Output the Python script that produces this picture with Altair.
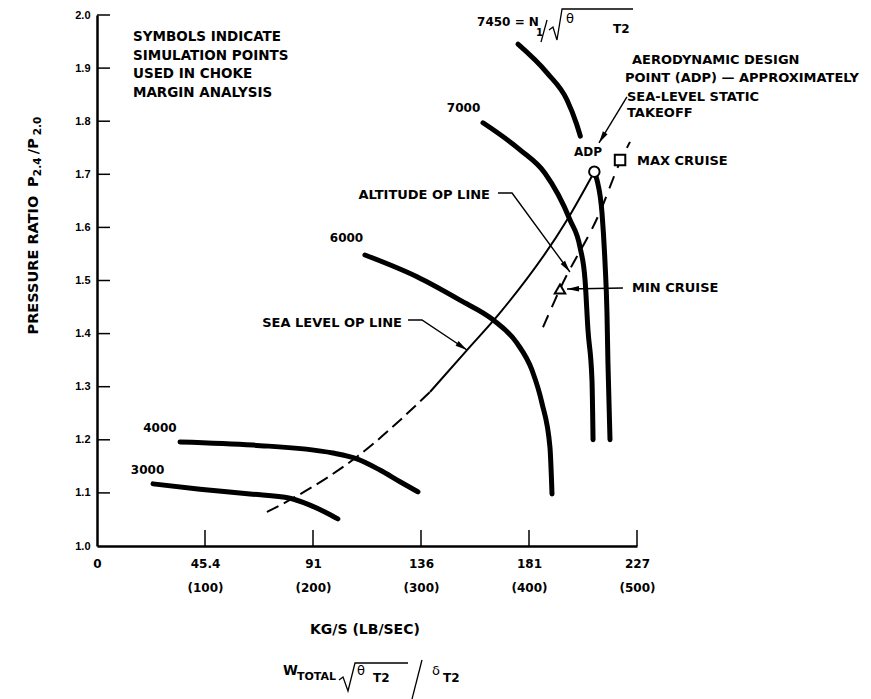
import math
import altair as alt
import pandas as pd

FONT = "DejaVu Sans"
TICK_FONT = "Liberation Sans"

# Corrected fan speed lines N1/sqrt(theta_T2): corrected flow (lb/s) vs pressure ratio P2.4/P2.0
speed_names = ["3000", "4000", "6000", "7000", "7450"]
flow_3000 = [51.9, 95.4, 141.7, 178.7, 197.2, 211.0, 223.0]
pr_3000 = [1.117, 1.107, 1.098, 1.090, 1.077, 1.064, 1.051]
flow_4000 = [76.9, 144.4, 218.5, 240.7, 262.0, 280.6, 297.2]
pr_4000 = [1.196, 1.190, 1.175, 1.164, 1.143, 1.121, 1.102]
flow_6000 = [248.1, 296.3, 336.1, 366.7, 388.9, 402.8, 412.0, 419.4, 421.3]
pr_6000 = [1.548, 1.507, 1.463, 1.426, 1.382, 1.331, 1.269, 1.186, 1.098]
flow_7000 = [357.4, 391.7, 414.8, 438.0, 447.2, 451.9, 454.6, 458.3, 459.3]
pr_7000 = [1.797, 1.746, 1.702, 1.614, 1.563, 1.501, 1.407, 1.313, 1.200]
# the 7450 line is broken where the ADP label sits
flow_7450_upper = [389.8, 416.7, 435.2, 444.0, 447.5]
pr_7450_upper = [1.945, 1.891, 1.840, 1.795, 1.772]
flow_7450_lower = [460.5, 463.0, 467.6, 470.4, 472.2, 473.1, 475.0]
pr_7450_lower = [1.705, 1.689, 1.627, 1.533, 1.439, 1.345, 1.200]

# Sea-level operating line (dashed at low flow, solid up to the design point)
sea_dash_flow = [157.4, 181.5, 240.7, 308.3]
sea_dash_pr = [1.064, 1.090, 1.168, 1.290]
sea_solid_flow = [308.3, 342.6, 373.1, 435.2, 460.5]
sea_solid_pr = [1.290, 1.369, 1.439, 1.614, 1.705]

# Altitude operating line
alt_flow = [413.0, 428.7, 465.7, 484.3, 493.5]
alt_pr = [1.412, 1.484, 1.629, 1.723, 1.761]

# Simulation points used in the choke margin analysis
point_names = ["ADP", "MAX CRUISE", "MIN CRUISE"]
point_shapes = ["circle", "square", "triangle-up"]
point_flow = [460.5, 484.3, 428.7]
point_pr = [1.705, 1.727, 1.484]

# Axis ticks
flow_ticks_lb = [0, 100, 200, 300, 400, 500]
flow_ticks_kg = ["0", "45.4", "91", "136", "181", "227"]
pr_ticks = [1.0, 1.1, 1.2, 1.3, 1.4, 1.5, 1.6, 1.7, 1.8, 1.9, 2.0]

W, H = 540, 531
PX_X = W / 500.0   # pixels per lb/s
PX_Y = H / 1.0     # pixels per unit pressure ratio

# ---------- tables ----------
speed_rows = []
pieces = [
    ("3000", flow_3000, pr_3000), ("4000", flow_4000, pr_4000),
    ("6000", flow_6000, pr_6000), ("7000", flow_7000, pr_7000),
    ("7450a", flow_7450_upper, pr_7450_upper), ("7450b", flow_7450_lower, pr_7450_lower),
]
for name, fl, pr in pieces:
    for i, (a, b) in enumerate(zip(fl, pr)):
        speed_rows.append({"series": name, "ord": i, "x": a, "y": b})
speed_df = pd.DataFrame(speed_rows)

sea_dash_df = pd.DataFrame({"x": sea_dash_flow, "y": sea_dash_pr, "ord": range(len(sea_dash_flow))})
sea_solid_df = pd.DataFrame({"x": sea_solid_flow, "y": sea_solid_pr, "ord": range(len(sea_solid_flow))})
alt_df = pd.DataFrame({"x": alt_flow, "y": alt_pr, "ord": range(len(alt_flow))})
points_df = pd.DataFrame({"name": point_names, "x": point_flow, "y": point_pr})

# annotation text: (text, x, y, font size, align, weight, angle)
texts = [
    ("SYMBOLS INDICATE", 33.3, 1.9586, 13.5, "left", "bold", 0),
    ("SIMULATION POINTS", 33.3, 1.9237, 13.5, "left", "bold", 0),
    ("USED IN CHOKE", 33.3, 1.8889, 13.5, "left", "bold", 0),
    ("MARGIN ANALYSIS", 33.3, 1.8540, 13.5, "left", "bold", 0),
    ("7000", 339.4, 1.825, 12, "center", "bold", 0),
    ("6000", 231.0, 1.580, 12, "center", "bold", 0),
    ("4000", 58.3, 1.222, 12, "center", "bold", 0),
    ("3000", 46.8, 1.143, 12, "center", "bold", 0),
    ("7450 = N", 351.9, 1.987, 12, "left", "bold", 0),
    ("1", 406.5, 1.966, 10, "left", "bold", 0),
    ("θ", 434.3, 1.9925, 13, "left", "normal", 0),
    ("T2", 477.8, 1.9736, 12, "left", "bold", 0),
    ("AERODYNAMIC DESIGN", 495.4, 1.915, 13, "left", "bold", 0),
    ("POINT (ADP) — APPROXIMATELY", 488.9, 1.881, 13, "left", "bold", 0),
    ("SEA-LEVEL STATIC", 490.7, 1.846, 13, "left", "bold", 0),
    ("TAKEOFF", 490.7, 1.815, 13, "left", "bold", 0),
    ("ADP", 454.6, 1.742, 12, "center", "bold", 0),
    ("MAX CRUISE", 500.0, 1.725, 13, "left", "bold", 0),
    ("ALTITUDE OP LINE", 363.9, 1.661, 13, "right", "bold", 0),
    ("MIN CRUISE", 495.4, 1.486, 13, "left", "bold", 0),
    ("SEA LEVEL OP LINE", 282.4, 1.420, 13, "right", "bold", 0),
    ("PRESSURE RATIO", -58.3, 1.529, 14.5, "center", "bold", 270),
    ("P", -58.3, 1.686, 14.5, "center", "bold", 270),
    ("2.4", -54.2, 1.714, 10.5, "center", "bold", 270),
    ("/P", -58.3, 1.753, 14.5, "center", "bold", 270),
    ("2.0", -54.2, 1.791, 10.5, "center", "bold", 270),
    ("KG/S (LB/SEC)", 248.1, 0.842, 14, "center", "bold", 0),
    ("W", 172.2, 0.7646, 13.5, "left", "bold", 0),
    ("TOTAL", 185.2, 0.7533, 11, "left", "bold", 0),
    ("θ", 240.7, 0.7646, 13, "left", "normal", 0),
    ("T2", 255.6, 0.7514, 12, "left", "bold", 0),
    ("δ", 310.2, 0.7646, 13, "left", "normal", 0),
    ("T2", 320.4, 0.7514, 12, "left", "bold", 0),
]
text_df = pd.DataFrame(texts, columns=["text", "x", "y", "size", "align", "weight", "angle"])

# leader lines ending in arrowheads
leaders = {
    "adp": [(490.7, 1.8456), (464.8, 1.759)],
    "altitude": [(371.3, 1.6648), (384.3, 1.6648), (437.9, 1.516)],
    "min": [(487.0, 1.4859), (435.2, 1.484)],
    "sea": [(288.0, 1.4256), (300.9, 1.4256), (342.6, 1.3691)],
}
# plain strokes of the formula lettering (radicals and slashes)
strokes = {
    "top_root": [(418.5, 1.9718), (422.2, 1.9774), (425.9, 1.9529), (430.6, 2.0113), (496.3, 2.0113)],
    "top_slash": [(416.7, 1.9906), (411.1, 1.949)],
    "bot_root": [(224.1, 0.7476), (227.8, 0.7533), (232.4, 0.7269), (238.9, 0.7797), (288.0, 0.7797)],
    "bot_slash": [(300.9, 0.7853), (291.7, 0.7119)],
}
lead_rows, head_rows = [], []
for k, pts in leaders.items():
    for i, (a, b) in enumerate(pts):
        lead_rows.append({"id": k, "ord": i, "x": a, "y": b})
    (x1, y1), (x2, y2) = pts[-2], pts[-1]
    dx = (x2 - x1) * PX_X
    dy = -(y2 - y1) * PX_Y          # screen direction, down positive
    ang = math.degrees(math.atan2(dx, -dy)) % 360
    head_rows.append({"id": k, "x": x2, "y": y2, "angle": ang})
stroke_rows = []
for k, pts in strokes.items():
    for i, (a, b) in enumerate(pts):
        stroke_rows.append({"id": k, "ord": i, "x": a, "y": b})
lead_df = pd.DataFrame(lead_rows)
head_df = pd.DataFrame(head_rows)
stroke_df = pd.DataFrame(stroke_rows)

xt_df = pd.DataFrame({"x": flow_ticks_lb[1:]})
yt_df = pd.DataFrame({"y": pr_ticks[1:]})

# ---------- encodings ----------
label_expr = "['0', '']"
for lb, kg in reversed(list(zip(flow_ticks_lb, flow_ticks_kg))[1:]):
    label_expr = f"datum.value == {lb} ? ['{kg}', '({lb})'] : {label_expr}"

x_enc = alt.X(
    "x:Q",
    scale=alt.Scale(domain=[0, 500], nice=False, zero=False),
    axis=alt.Axis(values=flow_ticks_lb, labelExpr=label_expr, title=None, grid=False,
                  ticks=False, tickSize=0, domainColor="black", domainWidth=2.5,
                  labelFont=FONT, labelFontSize=12, labelFontWeight="bold", labelColor="black",
                  labelLineHeight=24, labelBaseline="middle", labelPadding=17,
                  labelFlush=False, labelOverlap=False),
)
y_enc = alt.Y(
    "y:Q",
    scale=alt.Scale(domain=[1.0, 2.0], nice=False, zero=False),
    axis=alt.Axis(values=pr_ticks, format=".1f", title=None, grid=False,
                  ticks=False, tickSize=0, domainColor="black", domainWidth=2.5,
                  labelFont=TICK_FONT, labelFontSize=11, labelFontWeight="bold", labelColor="black",
                  labelPadding=7, labelFlush=False, labelOverlap=False),
)

# ---------- layers ----------
speed = alt.Chart(speed_df).mark_line(
    color="black", strokeWidth=5, interpolate="monotone", strokeCap="round"
).encode(x=x_enc, y=y_enc, detail="series:N", order="ord:Q")

sea_dash = alt.Chart(sea_dash_df).mark_line(
    color="black", strokeWidth=2, interpolate="monotone", strokeDash=[13, 6]
).encode(x=x_enc, y=y_enc, order="ord:Q")
sea_solid = alt.Chart(sea_solid_df).mark_line(
    color="black", strokeWidth=2, interpolate="monotone"
).encode(x=x_enc, y=y_enc, order="ord:Q")
alt_line = alt.Chart(alt_df).mark_line(
    color="black", strokeWidth=2, interpolate="monotone", strokeDash=[13, 9]
).encode(x=x_enc, y=y_enc, order="ord:Q")

x_ticks = alt.Chart(xt_df).mark_rule(color="black", strokeWidth=1.5).encode(
    x=x_enc, y=alt.value(H), y2=alt.value(H - 16))
y_ticks = alt.Chart(yt_df).mark_rule(color="black", strokeWidth=1.5).encode(
    y=y_enc, x=alt.value(0), x2=alt.value(13))

leads = alt.Chart(lead_df).mark_line(color="black", strokeWidth=1.4).encode(
    x=x_enc, y=y_enc, detail="id:N", order="ord:Q")
heads = alt.Chart(head_df).mark_point(
    shape="M0,0L0.55,2.4L-0.55,2.4Z", filled=True, color="black", size=100, opacity=1
).encode(x=x_enc, y=y_enc, angle=alt.Angle("angle:Q", scale=None))
strk = alt.Chart(stroke_df).mark_line(color="black", strokeWidth=1.3).encode(
    x=x_enc, y=y_enc, detail="id:N", order="ord:Q")

points = alt.Chart(points_df).mark_point(
    filled=True, fill="white", stroke="black", strokeWidth=2, size=110, opacity=1
).encode(
    x=x_enc, y=y_enc,
    shape=alt.Shape("name:N", scale=alt.Scale(domain=point_names, range=point_shapes), legend=None),
)

text_layers = []
for (al, wt), grp in text_df.groupby(["align", "weight"]):
    text_layers.append(
        alt.Chart(grp).mark_text(align=al, baseline="middle", font=FONT, fontWeight=wt, color="black")
        .encode(x=x_enc, y=y_enc, text="text:N",
                size=alt.Size("size:Q", scale=None),
                angle=alt.Angle("angle:Q", scale=None))
    )

chart = alt.layer(
    speed, sea_dash, sea_solid, alt_line, x_ticks, y_ticks, leads, heads, strk, points, *text_layers
).properties(
    width=W, height=H,
    padding={"left": 97, "top": 15, "right": 234, "bottom": 153},
    autosize=alt.AutoSizeParams(type="none"),
    background="white",
).configure_view(stroke=None)

chart.save("out.html", embed_options={"renderer": "svg", "actions": False})
